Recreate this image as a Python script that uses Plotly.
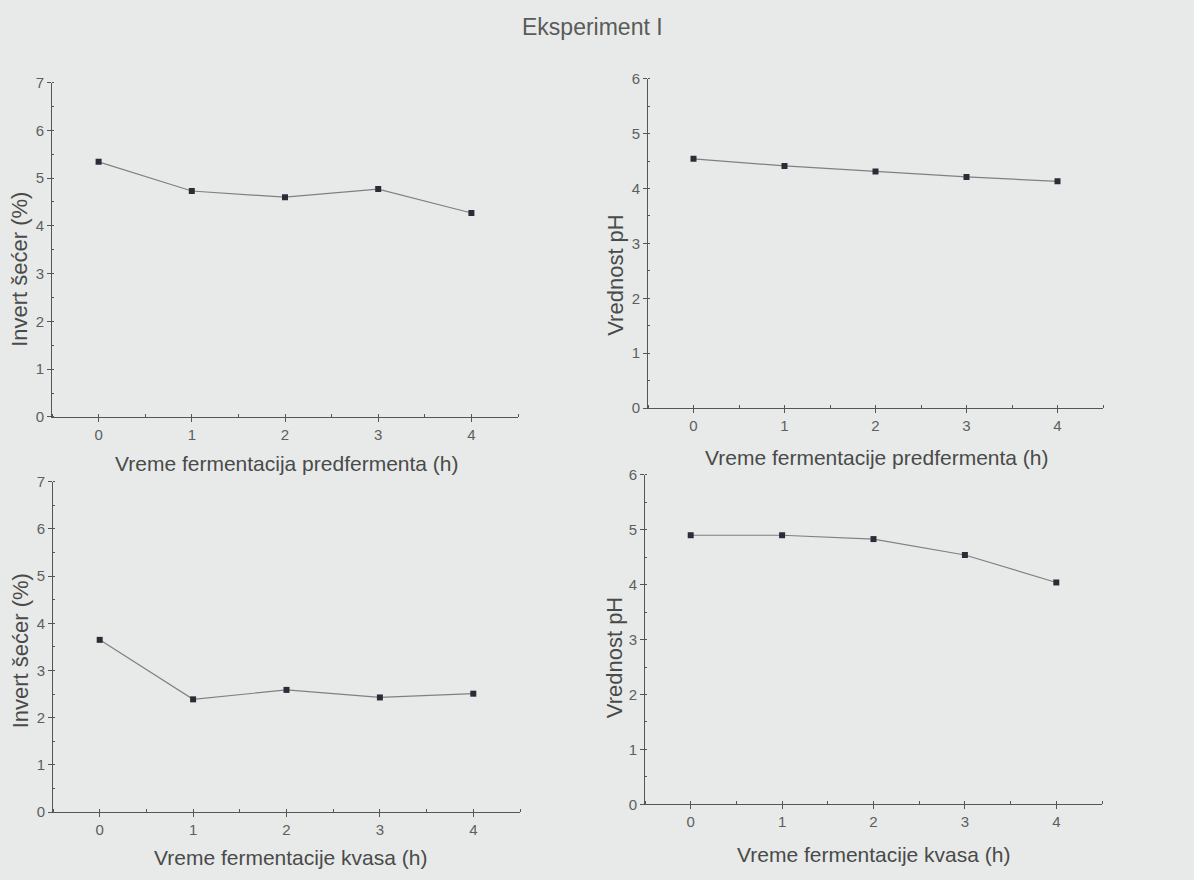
import plotly.graph_objects as go

# Fermentation time (h)
hours = [0, 1, 2, 3, 4]

# Experiment I measurements
invert_predferment = [5.34, 4.73, 4.60, 4.77, 4.27]
ph_predferment = [4.54, 4.41, 4.31, 4.21, 4.13]
invert_kvasa = [3.65, 2.39, 2.59, 2.43, 2.51]
ph_kvasa = [4.90, 4.90, 4.83, 4.54, 4.04]

title_text = "Eksperiment I"
x_titles = [
    "Vreme fermentacija predfermenta (h)",
    "Vreme fermentacije predfermenta (h)",
    "Vreme fermentacije kvasa (h)",
    "Vreme fermentacije kvasa (h)",
]
y_titles = ["Invert šećer (%)", "Vrednost pH", "Invert šećer (%)", "Vrednost pH"]

W, H = 1194, 880
BG = "#e7eae8"
AXIS = "#555555"
TEXT = "#5e5e5e"
FONT = "Liberation Sans, Arial, sans-serif"

# panel boxes in pixels: (left, right, top, bottom)
boxes = [
    (52, 518, 75, 416),
    (648, 1103, 71, 407),
    (53, 520, 482, 819),
    (645, 1102, 475, 811),
]
y_max = [7, 6, 7, 6]
series = [invert_predferment, ph_predferment, invert_kvasa, ph_kvasa]
# axis title positions in pixels: x-title centre (x, y), y-title centre (x, y)
xt_pos = [(287, 463), (877, 457), (290, 865), (873, 862)]
yt_pos = [(20, 266), (616, 272), (20, 655), (614, 662)]

fig = go.Figure()
layout = dict(
    width=W, height=H,
    margin=dict(l=0, r=0, t=0, b=0),
    paper_bgcolor=BG, plot_bgcolor=BG,
    showlegend=False,
    font=dict(family=FONT, color=TEXT),
)
annotations = [
    dict(text=title_text, x=592 / W, y=1 - 18 / H, xref="paper", yref="paper",
         showarrow=False, font=dict(size=23, color="#5a5a5a", family=FONT),
         xanchor="center", yanchor="middle")
]

for i, (vals, (l, r, t, b), ym) in enumerate(zip(series, boxes, y_max)):
    n = i + 1
    xa = "x" if n == 1 else f"x{n}"
    ya = "y" if n == 1 else f"y{n}"
    fig.add_trace(go.Scatter(
        x=hours, y=vals, xaxis=xa, yaxis=ya, mode="lines+markers",
        line=dict(color="#808080", width=1.2),
        marker=dict(symbol="square", size=6, color="#2c2c38"),
        hoverinfo="skip",
    ))
    xkey = "xaxis" if n == 1 else f"xaxis{n}"
    ykey = "yaxis" if n == 1 else f"yaxis{n}"
    layout[xkey] = dict(
        domain=[l / W, r / W], anchor=ya, range=[-0.5, 4.5],
        tickmode="array", tickvals=hours, ticktext=[str(h) for h in hours],
        showgrid=False, zeroline=False, showline=True, linecolor=AXIS, linewidth=1,
        ticks="outside", ticklen=4, tickcolor=AXIS,
        minor=dict(dtick=0.5, ticks="inside", ticklen=3, tickcolor=AXIS),
        tickfont=dict(size=15, color=TEXT, family=FONT),
    )
    layout[ykey] = dict(
        domain=[1 - b / H, 1 - t / H], anchor=xa, range=[0, ym],
        dtick=1, showgrid=False, zeroline=False, showline=True, linecolor=AXIS,
        linewidth=1, ticks="outside", ticklen=4, tickcolor=AXIS,
        minor=dict(dtick=0.5, ticks="inside", ticklen=2, tickcolor=AXIS),
        tickfont=dict(size=15, color=TEXT, family=FONT),
    )
    annotations.append(dict(
        text=x_titles[i], x=xt_pos[i][0] / W, y=1 - xt_pos[i][1] / H,
        xref="paper", yref="paper", showarrow=False,
        font=dict(size=21, color="#4a4a4a", family=FONT),
        xanchor="center", yanchor="middle"))
    annotations.append(dict(
        text=y_titles[i], x=yt_pos[i][0] / W, y=1 - yt_pos[i][1] / H,
        xref="paper", yref="paper", showarrow=False, textangle=-90,
        font=dict(size=22, color="#4a4a4a", family=FONT),
        xanchor="center", yanchor="middle"))

layout["annotations"] = annotations
fig.update_layout(**layout)
fig.write_html("out.html")
